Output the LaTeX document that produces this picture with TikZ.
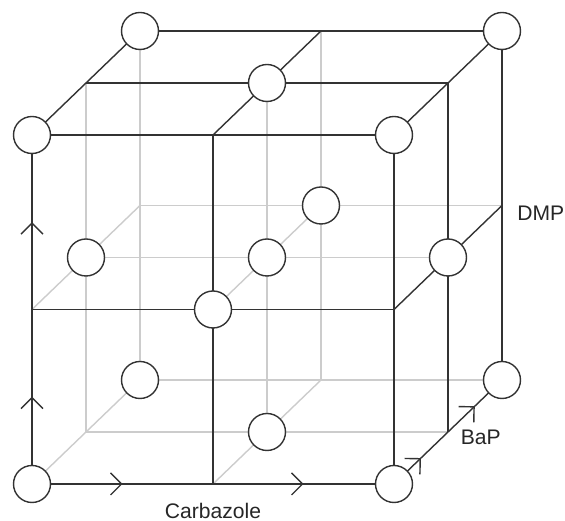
\documentclass[tikz,border=0pt]{standalone}
\usepackage{fontspec}
\setmainfont{Liberation Sans}
\usetikzlibrary{arrows.meta,positioning,decorations.markings}

\begin{document}
\begin{tikzpicture}[x={(3.62cm,0cm)},y={(0cm,3.49cm)},z={(1.08cm,1.04cm)},
  bline/.style={draw=black!80,line width=0.8pt},
  gline/.style={draw=black!20,line width=0.8pt},
  aline/.style={bline,decoration={markings,
      mark=at position 0.25 with {\arrow{Straight Barb[length=0.22cm,width=0.44cm]}},
      mark=at position 0.75 with {\arrow{Straight Barb[length=0.22cm,width=0.44cm]}}},
    postaction={decorate}},
  dot/.style={circle,draw=black!80,fill=white,line width=0.8pt,minimum size=0.74cm,inner sep=0pt},
  lbl/.style={inner sep=0pt,font=\fontsize{12}{14}\selectfont,text=black!85}]
  \useasboundingbox (-0.64cm,-0.74cm) rectangle (10.66cm,9.68cm);
  \foreach \i in {0,1,2}{\foreach \j in {0,1,2}{\foreach \k in {0,1,2}{
    \coordinate (p\i\j\k) at (\i,\j,\k);}}}
  \draw[gline] (p002) -- (p202);
  \draw[gline] (p002) -- (p022);
  \draw[gline] (p000) -- (p002);
  \draw[gline] (p102) -- (p122);
  \draw[gline] (p012) -- (p212);
  \draw[gline] (p010) -- (p012);
  \draw[gline] (p001) -- (p021);
  \draw[gline] (p100) -- (p102);
  \draw[gline] (p001) -- (p201);
  \draw[gline] (p011) -- (p211);
  \draw[gline] (p101) -- (p121);
  \draw[gline] (p110) -- (p112);
  \draw[aline] (p000) -- (p200);
  \draw[aline] (p000) -- (p020);
  \draw[aline] (p200) -- (p202);
  \draw[bline] (p020) -- (p220);
  \draw[bline] (p200) -- (p220);
  \draw[bline] (p100) -- (p120);
  \draw[bline] (p010) -- (p210);
  \draw[bline] (p020) -- (p022);
  \draw[bline] (p022) -- (p222);
  \draw[bline] (p220) -- (p222);
  \draw[bline] (p222) -- (p202);
  \draw[bline] (p120) -- (p122);
  \draw[bline] (p021) -- (p221);
  \draw[bline] (p210) -- (p212);
  \draw[bline] (p201) -- (p221);
  \node[dot] (n000) at (p000) {};
  \node[dot] (n200) at (p200) {};
  \node[dot] (n020) at (p020) {};
  \node[dot] (n220) at (p220) {};
  \node[dot] (n002) at (p002) {};
  \node[dot] (n202) at (p202) {};
  \node[dot] (n022) at (p022) {};
  \node[dot] (n222) at (p222) {};
  \node[dot] (n110) at (p110) {};
  \node[dot] (n112) at (p112) {};
  \node[dot] (n011) at (p011) {};
  \node[dot] (n211) at (p211) {};
  \node[dot] (n101) at (p101) {};
  \node[dot] (n121) at (p121) {};
  \node[dot] (n111) at (p111) {};
  \node[lbl,below=0.37cm of p100] (carbazole) {Carbazole};
  \node[lbl,right=0.3cm of p212,yshift=-0.16cm] (dmp) {DMP};
  \node[lbl,right=0.25cm of p201,yshift=-0.1cm] (bap) {BaP};
\end{tikzpicture}
\end{document}
